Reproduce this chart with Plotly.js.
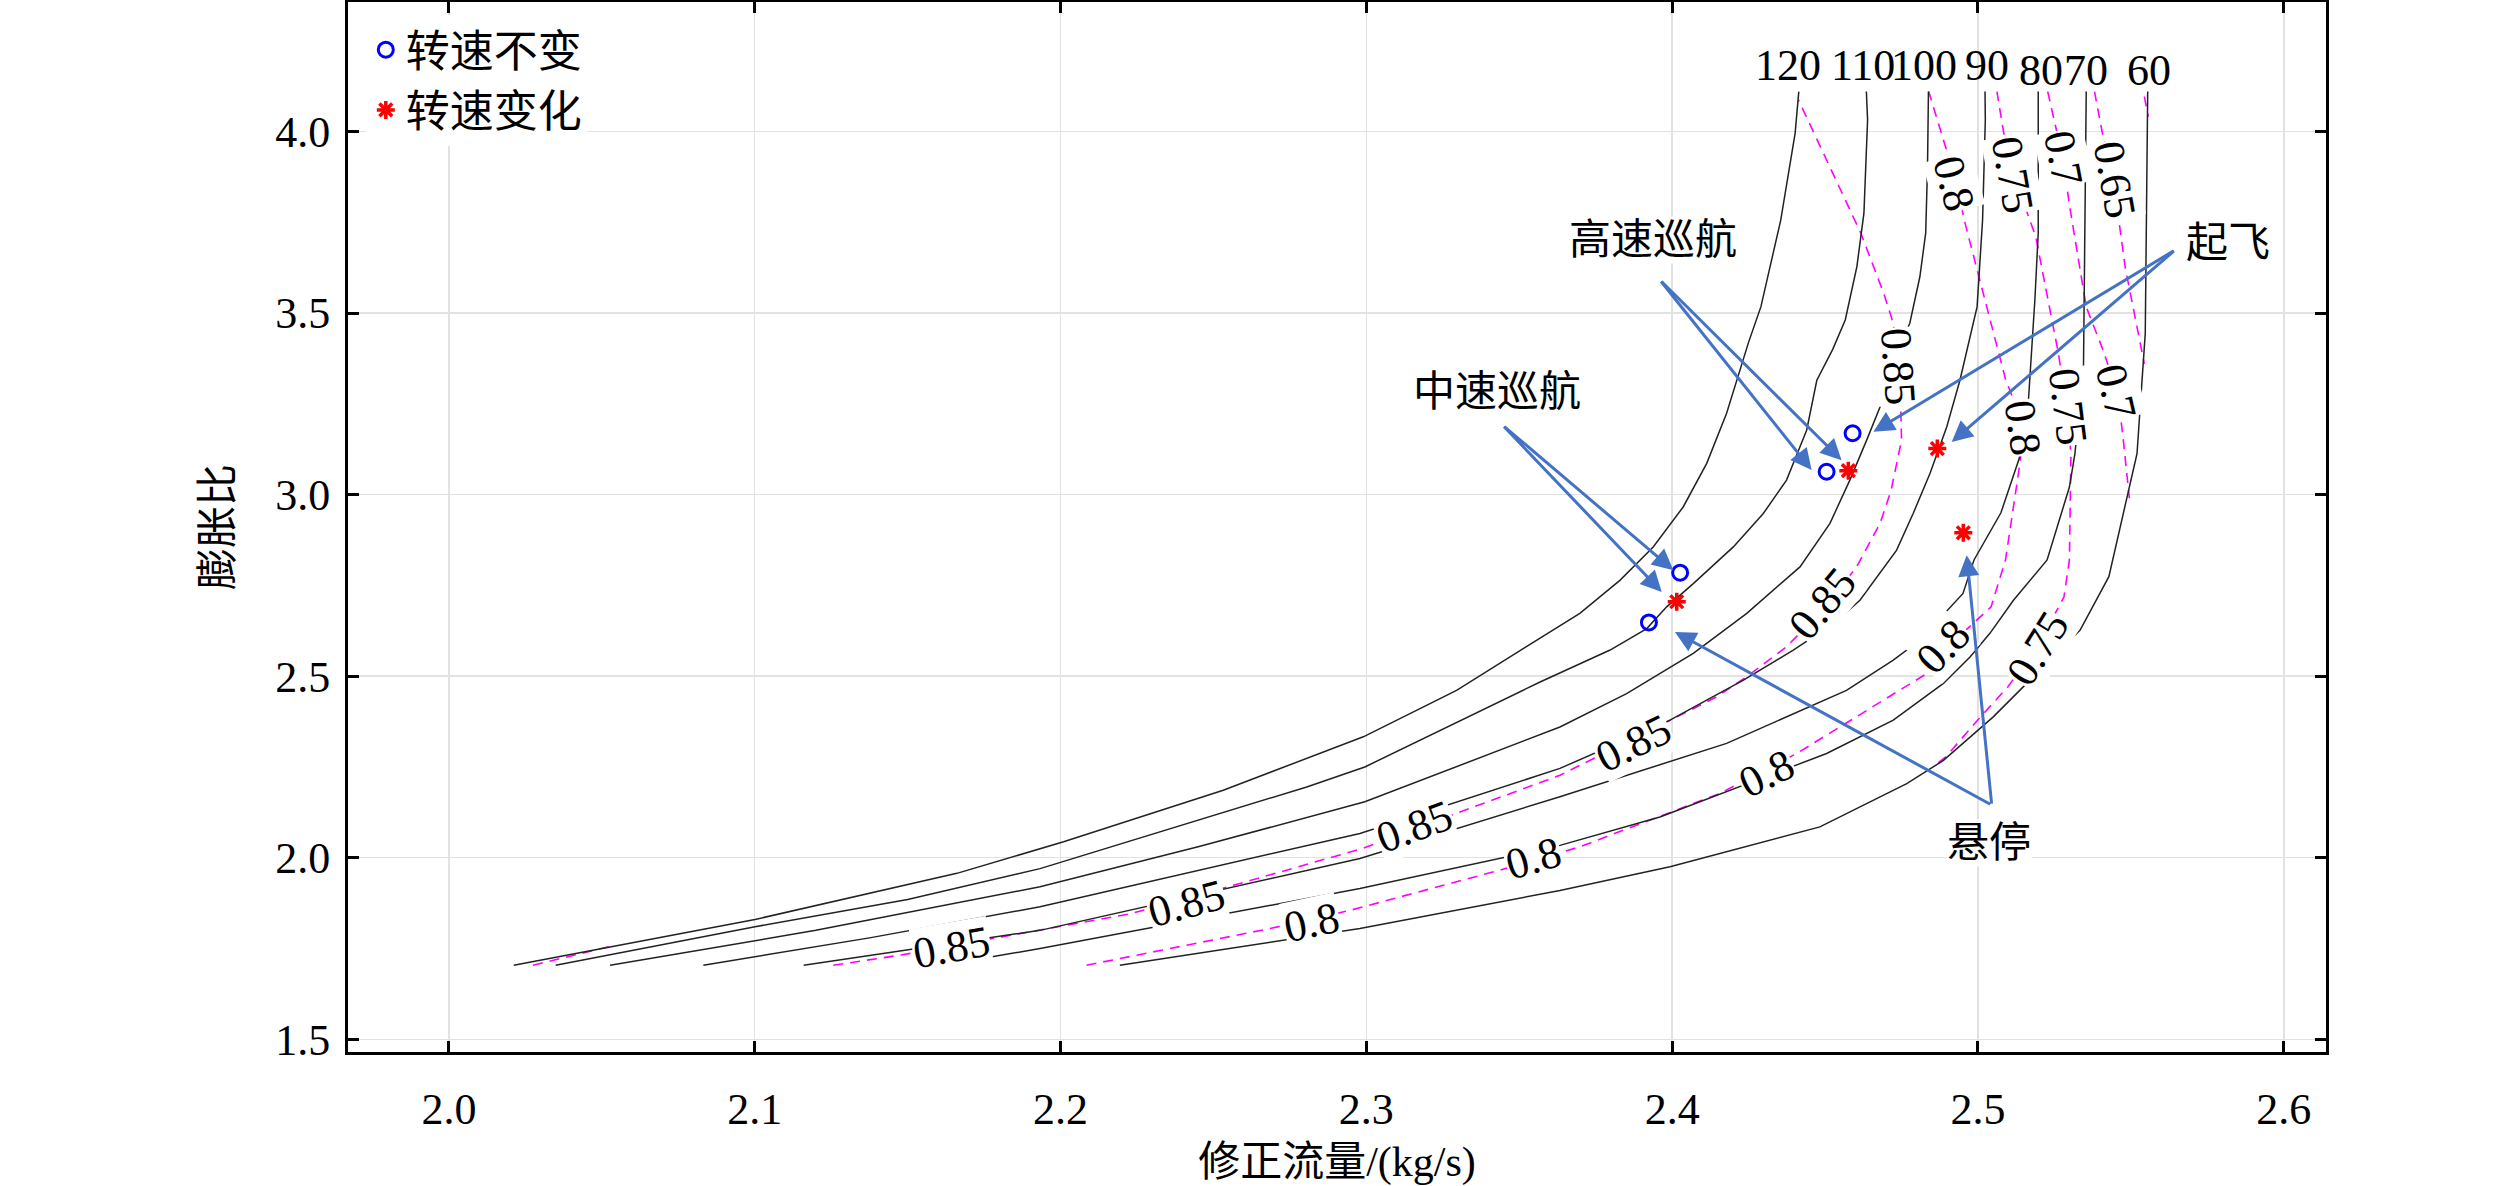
<!DOCTYPE html>
<html>
<head>
<meta charset="utf-8">
<script src="https://cdn.plot.ly/plotly-3.0.1.min.js"></script>
<style>html,body{margin:0;padding:0;background:#fff;}</style>
</head>
<body>
<div id="chart" style="width:2520px;height:1186px;"></div>
<script>
// speed lines (corrected speed, %) : corrected flow vs expansion ratio
const speed120X = [2.0212, 2.0600, 2.1001, 2.1661, 2.2010, 2.2532, 2.2990, 2.3295, 2.3557, 2.3698, 2.3829, 2.3938, 2.4036, 2.4113, 2.4178, 2.4211, 2.4250, 2.4290, 2.4355, 2.4402, 2.4414];
const speed120Y = [1.704, 1.765, 1.830, 1.957, 2.044, 2.186, 2.333, 2.461, 2.599, 2.673, 2.764, 2.856, 2.966, 3.086, 3.224, 3.315, 3.420, 3.517, 3.756, 3.995, 4.110];
const speed110X = [2.0349, 2.1001, 2.1500, 2.1933, 2.2805, 2.2995, 2.3568, 2.3797, 2.3917, 2.3982, 2.4069, 2.4200, 2.4298, 2.4374, 2.4440, 2.4473, 2.4525, 2.4566, 2.4604, 2.4627, 2.4639, 2.4635];
const speed110Y = [1.704, 1.810, 1.885, 1.970, 2.195, 2.250, 2.484, 2.572, 2.631, 2.691, 2.755, 2.856, 2.948, 3.040, 3.178, 3.315, 3.400, 3.481, 3.628, 3.775, 4.032, 4.110];
const speed100X = [2.0527, 2.1200, 2.1933, 2.2450, 2.2995, 2.3633, 2.3851, 2.4069, 2.4244, 2.4418, 2.4516, 2.4581, 2.4636, 2.4680, 2.4696, 2.4777, 2.4810, 2.4829, 2.4835, 2.4838];
const speed100Y = [1.704, 1.800, 1.920, 2.030, 2.154, 2.360, 2.452, 2.563, 2.673, 2.801, 2.921, 3.040, 3.150, 3.242, 3.315, 3.472, 3.600, 3.720, 3.903, 4.110];
const speed90X = [2.0832, 2.1380, 2.1933, 2.2979, 2.3633, 2.3993, 2.4233, 2.4396, 2.4527, 2.4614, 2.4734, 2.4788, 2.4843, 2.4898, 2.4941, 2.4997, 2.5015, 2.5024, 2.5023];
const speed90Y = [1.704, 1.780, 1.865, 2.067, 2.246, 2.379, 2.489, 2.572, 2.645, 2.709, 2.847, 2.948, 3.058, 3.187, 3.315, 3.517, 3.756, 4.032, 4.110];
const speed80X = [2.1160, 2.1933, 2.2979, 2.3633, 2.4178, 2.4570, 2.4723, 2.4810, 2.4951, 2.4987, 2.5075, 2.5135, 2.5165, 2.5186, 2.5197, 2.5198, 2.5197];
const speed80Y = [1.704, 1.800, 1.998, 2.168, 2.315, 2.461, 2.544, 2.599, 2.728, 2.820, 2.950, 3.100, 3.260, 3.536, 3.720, 4.032, 4.110];
const speed70X = [2.1615, 2.1933, 2.2979, 2.3633, 2.3960, 2.4505, 2.4723, 2.4887, 2.4974, 2.5039, 2.5116, 2.5226, 2.5299, 2.5317, 2.5345, 2.5354, 2.5354];
const speed70Y = [1.704, 1.750, 1.915, 2.034, 2.112, 2.287, 2.379, 2.480, 2.553, 2.618, 2.709, 2.820, 3.021, 3.113, 3.352, 4.032, 4.110];
const speed60X = [2.2194, 2.2979, 2.3633, 2.3993, 2.4483, 2.4767, 2.4887, 2.5050, 2.5214, 2.5334, 2.5428, 2.5483, 2.5520, 2.5547, 2.5556, 2.5555];
const speed60Y = [1.704, 1.805, 1.910, 1.975, 2.085, 2.204, 2.268, 2.388, 2.526, 2.627, 2.774, 2.976, 3.113, 3.444, 4.032, 4.110];

const speedNames = ['120', '110', '100', '90', '80', '70', '60'];
const speedLabelX = [2.4379, 2.4623, 2.4824, 2.5031, 2.5206, 2.5353, 2.5559];
const speedLabelY = [4.183, 4.183, 4.183, 4.183, 4.169, 4.169, 4.169];

// efficiency iso-lines
const eff85X = [2.1257, 2.1478, 2.1808, 2.2230, 2.2565, 2.2985, 2.3306, 2.3633, 2.4004, 2.4145, 2.4243, 2.4374, 2.4500, 2.4603, 2.4680, 2.4716, 2.4750, 2.4745, 2.4723, 2.4692, 2.4617, 2.4504, 2.4413];
const eff85Y = [1.704, 1.732, 1.782, 1.846, 1.924, 2.025, 2.126, 2.227, 2.383, 2.443, 2.498, 2.581, 2.690, 2.801, 2.921, 3.012, 3.150, 3.330, 3.472, 3.554, 3.720, 3.921, 4.087];
const eff85bX = [2.0275, 2.0523];
const eff85bY = [1.704, 1.755];
const eff80X = [2.2085, 2.2685, 2.2946, 2.3437, 2.3698, 2.4156, 2.4407, 2.4832, 2.4900, 2.5043, 2.5090, 2.5134, 2.5152, 2.5091, 2.4960, 2.4922, 2.4839];
const eff80Y = [1.704, 1.805, 1.855, 1.966, 2.030, 2.177, 2.287, 2.507, 2.580, 2.691, 2.820, 3.068, 3.187, 3.315, 3.740, 3.880, 4.110];
const eff75X = [2.4870, 2.4895, 2.5000, 2.5098, 2.5193, 2.5281, 2.5299, 2.5304, 2.5290, 2.5263, 2.5189, 2.5117, 2.5093, 2.5062];
const eff75Y = [2.262, 2.278, 2.380, 2.471, 2.580, 2.718, 2.820, 3.113, 3.242, 3.389, 3.710, 3.880, 3.951, 4.110];
const eff70X = [2.5228, 2.5255, 2.5277, 2.5300, 2.5354, 2.5409, 2.5456, 2.5473, 2.5495];
const eff70Y = [4.110, 4.010, 3.928, 3.793, 3.517, 3.398, 3.279, 3.169, 2.990];
const eff65X = [2.5381, 2.5407, 2.5442, 2.5482, 2.5544];
const eff65Y = [4.110, 3.995, 3.870, 3.623, 3.360];
const eff60X = [2.5544, 2.5557];
const eff60Y = [4.096, 4.041];

const effLabelText = ['0.85', '0.85', '0.85', '0.85', '0.85', '0.85', '0.8', '0.8', '0.8', '0.8', '0.8', '0.8', '0.75', '0.75', '0.75', '0.7', '0.7', '0.65'];
const effLabelX = [2.1642, 2.2413, 2.3159, 2.3872, 2.4492, 2.4738, 2.2821, 2.3546, 2.4309, 2.4887, 2.5147, 2.4922, 2.5195, 2.5293, 2.5114, 2.5450, 2.5278, 2.5448];
const effLabelY = [1.754, 1.874, 2.085, 2.315, 2.700, 3.352, 1.823, 1.998, 2.232, 2.581, 3.183, 3.858, 2.577, 3.242, 3.880, 3.283, 3.928, 3.866];
const effLabelAngle = [-10, -15, -20, -26, -50, 86, -12, -16, -26, -46, 82, 75, -58, 83, 80, 77, 79, 80];

// operating points
const constSpeedX = [2.3924, 2.4026, 2.4505, 2.4590];
const constSpeedY = [2.648, 2.785, 3.063, 3.169];
const varSpeedX = [2.4015, 2.4576, 2.4867, 2.4952];
const varSpeedY = [2.705, 3.066, 3.127, 2.895];

// callouts
const calloutText = ['高速巡航', '中速巡航', '起飞', '悬停'];
const calloutX = [2.3937, 2.3427, 2.5817, 2.5036];
const calloutY = [3.701, 3.282, 3.693, 2.040];
const arrowTailX = [2.3960, 2.3446, 2.5645, 2.5045];
const arrowTailY = [3.591, 3.191, 3.674, 2.145];
const arrowTipX = [[2.4456, 2.4554], [2.3966, 2.4004], [2.4658, 2.4914], [2.4009, 2.4963]];
const arrowTipY = [[3.068, 3.095], [2.732, 2.792], [3.173, 3.145], [2.622, 2.833]];

const FONT = 'Liberation Serif, Times New Roman, Noto Sans CJK SC, serif';
const BLUE = '#4472C4';

const speedLines = [
    [speed120X, speed120Y], [speed110X, speed110Y], [speed100X, speed100Y], [speed90X, speed90Y],
    [speed80X, speed80Y], [speed70X, speed70Y], [speed60X, speed60Y]
];
const effLines = [
    [eff85X, eff85Y], [eff85bX, eff85bY], [eff80X, eff80Y], [eff75X, eff75Y],
    [eff70X, eff70Y], [eff65X, eff65Y], [eff60X, eff60Y]
];

const traces = [];
effLines.forEach(([xs, ys]) => traces.push({
    x: xs, y: ys, type: 'scatter', mode: 'lines', showlegend: false, hoverinfo: 'skip',
    line: { color: '#ff00ff', width: 1.6, dash: '10px,7px' }
}));
speedLines.forEach(([xs, ys]) => traces.push({
    x: xs, y: ys, type: 'scatter', mode: 'lines', showlegend: false, hoverinfo: 'skip',
    line: { color: '#222', width: 1.5 }
}));
traces.push({
    x: constSpeedX, y: constSpeedY, type: 'scatter', mode: 'markers', name: '转速不变',
    marker: { symbol: 'circle-open', size: 15, color: '#0000ff', line: { width: 3, color: '#0000ff' } }
});
traces.push({
    x: varSpeedX, y: varSpeedY, type: 'scatter', mode: 'markers', name: '转速变化',
    marker: { symbol: 'asterisk-open', size: 15, color: '#ff0000', line: { width: 3.5, color: '#ff0000' } }
});

const annotations = [];
effLabelText.forEach((t, i) => annotations.push({
    x: effLabelX[i], y: effLabelY[i], text: t, textangle: effLabelAngle[i], showarrow: false,
    xanchor: 'center', yanchor: 'middle', bgcolor: 'white', borderpad: 0,
    font: { family: FONT, size: 44, color: 'black' }
}));
speedNames.forEach((t, i) => annotations.push({
    x: speedLabelX[i], y: speedLabelY[i], text: t, showarrow: false,
    xanchor: 'center', yanchor: 'middle',
    font: { family: FONT, size: 44, color: 'black' }
}));
calloutText.forEach((t, i) => {
    annotations.push({
        x: calloutX[i], y: calloutY[i], text: t, showarrow: false,
        xanchor: 'center', yanchor: 'middle', bgcolor: 'white', borderpad: 0,
        font: { family: FONT, size: 42, color: 'black' }
    });
    arrowTipX[i].forEach((tx, j) => annotations.push({
        x: tx, y: arrowTipY[i][j], ax: arrowTailX[i], ay: arrowTailY[i],
        axref: 'x', ayref: 'y', xref: 'x', yref: 'y', text: '', showarrow: true,
        arrowhead: 2, arrowsize: 1.4, arrowwidth: 3, arrowcolor: BLUE, standoff: 0, startstandoff: 0
    }));
});

const axisCommon = {
    showline: true, linecolor: 'black', linewidth: 3, mirror: 'ticks',
    ticks: 'inside', ticklen: 11, tickwidth: 3, tickcolor: 'black',
    showgrid: true, gridcolor: '#e2e2e2', gridwidth: 1.5, zeroline: false,
    tickfont: { family: FONT, size: 44, color: 'black' }, automargin: false
};

Plotly.newPlot('chart', traces, {
    width: 2520, height: 1186,
    margin: { l: 348, r: 194, t: 2, b: 134 },
    paper_bgcolor: 'white', plot_bgcolor: 'white',
    font: { family: FONT, color: 'black' },
    xaxis: Object.assign({}, axisCommon, {
        range: [1.967, 2.6138], tickvals: [2.0, 2.1, 2.2, 2.3, 2.4, 2.5, 2.6], tickformat: '.1f',
        ticklabelstandoff: 16,
        title: { text: '修正流量/(kg/s)', font: { family: FONT, size: 42, color: 'black' }, standoff: 28 }
    }),
    yaxis: Object.assign({}, axisCommon, {
        range: [1.465, 4.3567], tickvals: [1.5, 2.0, 2.5, 3.0, 3.5, 4.0], tickformat: '.1f',
        ticklabelstandoff: 6,
        title: { text: '膨胀比', font: { family: FONT, size: 42, color: 'black' }, standoff: 30 }
    }),
    legend: {
        x: 0.009, y: 0.988, xanchor: 'left', yanchor: 'top', bgcolor: 'white', borderwidth: 0,
        font: { family: FONT, size: 44, color: 'black' }, itemwidth: 30
    },
    showlegend: true,
    annotations: annotations
}, { displayModeBar: false, staticPlot: true });
</script>
</body>
</html>
